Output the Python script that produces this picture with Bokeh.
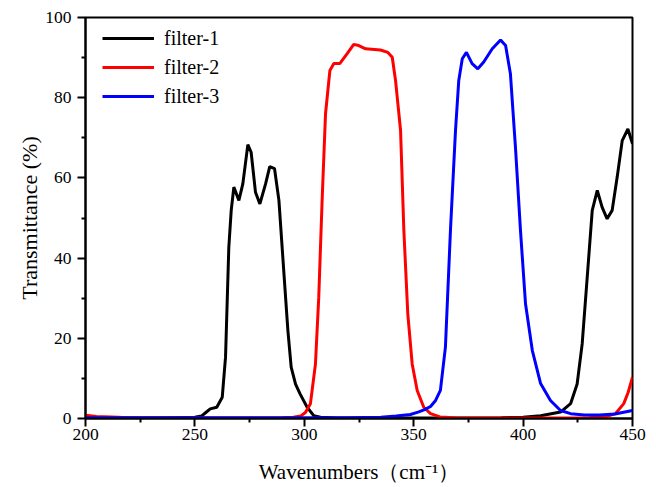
from bokeh.plotting import figure
from bokeh.models import Range1d, FixedTicker, Legend, LegendItem
from bokeh.embed import file_html
from bokeh.resources import INLINE

# ---- data ----
f1_x = [200, 210, 220, 230, 240, 250, 253, 255, 257, 260, 262.5, 264, 265.5, 266.6, 267.8,
        270.1, 271.9, 274.2, 275.7, 277.7, 279.7, 282.3, 284.2, 286.4, 288.4, 290.6, 292.5,
        294, 296, 298, 301.3, 304.3, 307.4, 315, 330, 350, 370, 390, 400, 408, 417.1,
        421.7, 424.7, 427, 429.3, 431.6, 433.9, 436.1, 438.4, 440.7, 443, 445.3, 447.9, 450]
f1_y = [0.2, 0.1, 0.1, 0.1, 0.2, 0.3, 0.6, 1.5, 2.4, 2.8, 5.3, 15.3, 42.7, 51.9, 57.7,
        54.4, 58.5, 68.3, 66.4, 56.4, 53.5, 58.5, 62.8, 62.3, 54.4, 36.9, 21.9,
        12.8, 8.6, 6.2, 2.8, 0.7, 0.3, 0.1, 0.1, 0.1, 0.1, 0.2, 0.3, 0.7, 1.6,
        3.7, 8.6, 18.6, 35.2, 51.9, 56.9, 52.7, 49.8, 51.9, 60.2, 69.3, 72.2, 68.5]

f2_x = [200, 205, 215, 220, 240, 260, 280, 290, 295, 298.3, 300.5, 302.8, 305.1, 306.6,
        308.2, 309.7, 311.7, 313.5, 316.2, 319.6, 322.6, 324.9, 328, 334.8, 338.2, 340.2,
        341.7, 344, 345.5, 347.3, 349.3, 351.6, 354.6, 357.7, 362, 370, 390, 410, 430,
        438, 442.2, 446, 448, 450]
f2_y = [0.8, 0.5, 0.3, 0.1, 0.1, 0.1, 0.1, 0.2, 0.3, 0.6, 1.5, 3.7, 13.6, 30.2,
        55.2, 76, 86.8, 88.5, 88.5, 91, 93.3, 93, 92.2, 91.9, 91.3, 90.1,
        84.3, 71.8, 46.9, 26.1, 13.6, 7, 2.8, 1.2, 0.4, 0.1, 0.1, 0.1, 0.2,
        0.5, 1.2, 3.7, 6.5, 10.3]

f3_x = [200, 250, 300, 320, 335, 342, 348.5, 352, 355, 357.7, 360, 362.2, 364.5, 366.8,
        369.1, 370.6, 372.2, 374.1, 376.7, 379.3, 382, 385.9, 389.7, 392, 394.2, 396.5,
        398.8, 401.1, 404.2, 408, 412.5, 417.1, 421.7, 428, 435, 442, 450]
f3_y = [0.2, 0.2, 0.2, 0.2, 0.3, 0.6, 1.0, 1.6, 2.2, 3.0, 4.5, 7, 17.8, 46.9,
        71.8, 84.3, 89.7, 91.3, 88.5, 87.2, 88.9, 92.2, 94.4, 93, 86, 67.7,
        46.9, 28.6, 17, 8.7, 4.5, 2, 1.2, 0.9, 0.9, 1.1, 2.0]

series_names = ["filter-1", "filter-2", "filter-3"]
series_colors = ["#000000", "#ff0000", "#0000ff"]

x_ticks = [200, 250, 300, 350, 400, 450]
x_minor = [225, 275, 325, 375, 425]
y_ticks = [0, 20, 40, 60, 80, 100]
y_minor = [10, 30, 50, 70, 90]

FONT = "Liberation Serif"

p = figure(width=648, height=487, output_backend="svg", toolbar_location=None,
           x_range=Range1d(200, 450), y_range=Range1d(0, 100),
           min_border_left=85, min_border_right=16, min_border_top=17, min_border_bottom=69)

p.xgrid.visible = False
p.ygrid.visible = False
p.outline_line_color = "black"
p.outline_line_width = 2
p.background_fill_color = "white"
p.border_fill_color = "white"

renderers = []
for xs, ys, c in zip([f1_x, f2_x, f3_x], [f1_y, f2_y, f3_y], series_colors):
    r = p.line(xs, ys, line_color=c, line_width=3)
    renderers.append(r)

legend = Legend(items=[LegendItem(label=n, renderers=[r]) for n, r in zip(series_names, renderers)],
                location=(17, 310))
legend.border_line_color = None
legend.background_fill_alpha = 0
legend.margin = 0
legend.padding = 0
legend.glyph_width = 52
legend.glyph_height = 24
legend.label_height = 24
legend.spacing = 5
legend.label_standoff = 10
legend.label_text_font = FONT
legend.label_text_font_size = "20px"
legend.label_text_color = "black"
p.add_layout(legend)

for ax in [p.xaxis[0], p.yaxis[0]]:
    ax.axis_line_width = 2
    ax.axis_line_color = "black"
    ax.major_tick_line_width = 2
    ax.minor_tick_line_width = 2
    ax.major_tick_out = 8
    ax.major_tick_in = 0
    ax.minor_tick_out = 4
    ax.minor_tick_in = 0
    ax.major_label_text_font = FONT
    ax.major_label_text_font_size = "17.5px"
    ax.major_label_text_color = "black"
    ax.axis_label_text_font = FONT
    ax.axis_label_text_font_style = "normal"
    ax.axis_label_text_color = "black"

p.xaxis[0].axis_label_text_font_size = "21px"
p.yaxis[0].axis_label_text_font_size = "22px"
p.xaxis[0].ticker = FixedTicker(ticks=x_ticks, minor_ticks=x_minor)
p.yaxis[0].ticker = FixedTicker(ticks=y_ticks, minor_ticks=y_minor)
p.xaxis[0].axis_label = "Wavenumbers（cm⁻¹）"
p.yaxis[0].axis_label = "Transmittance (%)"
p.xaxis[0].major_label_standoff = 2
p.yaxis[0].major_label_standoff = 6
p.xaxis[0].axis_label_standoff = 17
p.yaxis[0].axis_label_standoff = 0

open("out.html", "w").write(file_html(p, INLINE))
